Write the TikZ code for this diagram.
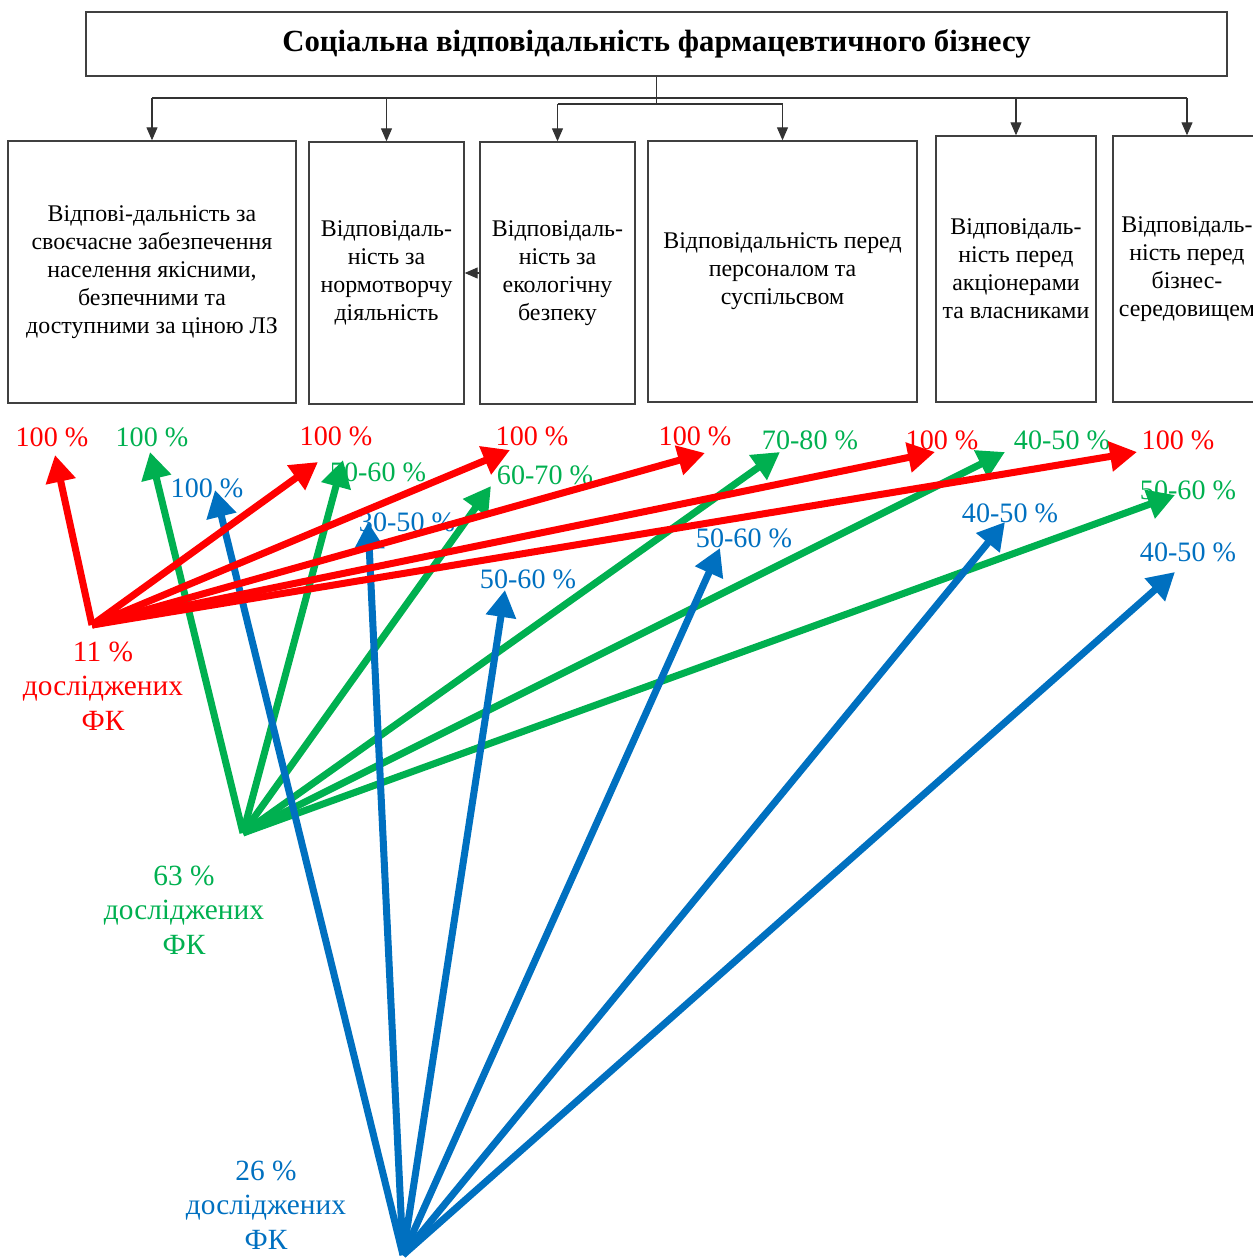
\documentclass[tikz,border=0pt]{standalone}
\usepackage{fontspec}
\setmainfont{Liberation Serif}
\usetikzlibrary{arrows.meta, positioning}
\definecolor{fkred}{HTML}{FF0000}
\definecolor{fkgreen}{HTML}{00B050}
\definecolor{fkblue}{HTML}{0070C0}
\definecolor{boxline}{HTML}{404040}
\tikzset{
  headbox/.style={draw=boxline, line width=0.8pt,
              minimum width=22.82cm, minimum height=1.28cm,
              font=\fontsize{17.5}{20}\selectfont\bfseries},
  respbox/.style={draw=boxline, line width=0.8pt, minimum height=5.24cm,
              align=center, inner sep=2pt,
              font=\fontsize{13.6}{16}\selectfont},
  plainline/.style={line width=0.6pt, color=black!80},
  link/.style={-{Triangle[length=2.6mm, width=2.2mm]}, line width=0.6pt, color=black!80},
  colorarr/.style={-{Triangle[length=5.4mm, width=5.8mm]}, line width=4pt, color=#1},
  pct/.style={text=#1, inner sep=0pt, font=\fontsize{16}{19}\selectfont},
  srclabel/.style={text=#1, align=center, inner sep=0pt,
              font=\fontsize{16.7}{19.5}\selectfont},
}

\begin{document}
\begin{tikzpicture}[x=0.02cm, y=-0.02cm]
  \useasboundingbox (0,0) rectangle (1253,1259);

  % title and the six kinds of responsibility
  \node[headbox] (title) at (656.5,44) {Соціальна відповідальність фармацевтичного бізнесу};
  \node[respbox, minimum width=5.76cm] (resp1) at (152,272)
    {Відпові-дальність за\\своєчасне забезпечення\\населення якісними,\\безпечними та\\доступними за ціною ЛЗ};
  \node[respbox, minimum width=3.1cm] (resp2) at (386.5,273)
    {Відповідаль-\\ність за\\нормотворчу\\діяльність};
  \node[respbox, minimum width=3.1cm] (resp3) at (557.5,273)
    {Відповідаль-\\ність за\\екологічну\\безпеку};
  \node[respbox, minimum width=5.38cm, minimum height=5.22cm] (resp4) at (782.5,271.5)
    {Відповідальність перед\\персоналом та\\суспільсвом};
  \node[respbox, minimum width=3.2cm, minimum height=5.32cm] (resp5) at (1016,269)
    {Відповідаль-\\ність перед\\акціонерами\\та власниками};
  \node[respbox, minimum width=2.96cm, minimum height=5.32cm] (resp6) at (1187,269)
    {Відповідаль-\\ність перед\\бізнес-\\середовищем};

  \coordinate (hi) at (0,98);
  \coordinate (lo) at (0,104);
  \draw[plainline] (title.south) -- (title.south |- lo);
  \draw[plainline] (resp1.north |- hi) -- (resp6.north |- hi);
  \draw[plainline] (resp3.north |- lo) -- (resp4.north |- lo);
  \draw[link] (resp1.north |- hi) -- (resp1.north);
  \draw[link] (resp2.north |- hi) -- (resp2.north);
  \draw[link] (resp3.north |- lo) -- (resp3.north);
  \draw[link] (resp4.north |- lo) -- (resp4.north);
  \draw[link] (resp5.north |- hi) -- (resp5.north);
  \draw[link] (resp6.north |- hi) -- (resp6.north);
  \draw[link] (resp3.west) -- (resp2.east);

  % shares of the studied companies
  \coordinate (src11) at (92,625);
  \coordinate (src63) at (243,833);
  \coordinate (src26) at (403,1255);
  \node[srclabel=fkred]   (lab11) at (103,686)  {11 \%\\досліджених\\ФК};
  \node[srclabel=fkgreen] (lab63) at (184,910)  {63 \%\\досліджених\\ФК};
  \node[srclabel=fkblue]  (lab26) at (266,1205) {26 \%\\досліджених\\ФК};

  % percent labels
  \node[pct=fkred] (rp1) at (52,437)   {100 \%};
  \node[pct=fkred] (rp2) at (336,436)  {100 \%};
  \node[pct=fkred] (rp3) at (532,436)  {100 \%};
  \node[pct=fkred] (rp4) at (695,436)  {100 \%};
  \node[pct=fkred] (rp5) at (942,440)  {100 \%};
  \node[pct=fkred] (rp6) at (1178,440) {100 \%};
  \node[pct=fkgreen] (gp1) at (152,437)  {100 \%};
  \node[pct=fkgreen] (gp2) at (378,472)  {50-60 \%};
  \node[pct=fkgreen] (gp3) at (545,475)  {60-70 \%};
  \node[pct=fkgreen] (gp4) at (810,440)  {70-80 \%};
  \node[pct=fkgreen] (gp5) at (1062,440) {40-50 \%};
  \node[pct=fkgreen] (gp6) at (1188,490) {50-60 \%};
  \node[pct=fkblue] (bp1) at (207,488)  {100 \%};
  \node[pct=fkblue] (bp2) at (407,522)  {30-50 \%};
  \node[pct=fkblue] (bp3) at (528,579)  {50-60 \%};
  \node[pct=fkblue] (bp4) at (744,538)  {50-60 \%};
  \node[pct=fkblue] (bp5) at (1010,513) {40-50 \%};
  \node[pct=fkblue] (bp6) at (1188,552) {40-50 \%};

  % arrow tips
  \coordinate (rt1) at (55,455);
  \coordinate (rt2) at (318,462);
  \coordinate (rt3) at (510,450);
  \coordinate (rt4) at (705,453);
  \coordinate (rt5) at (935,452);
  \coordinate (rt6) at (1137,452);
  \coordinate (gt1) at (150,452);
  \coordinate (gt2) at (343,460);
  \coordinate (gt3) at (491,486);
  \coordinate (gt4) at (780,452);
  \coordinate (gt5) at (1005,452);
  \coordinate (gt6) at (1175,495);
  \coordinate (bt1) at (215,490);
  \coordinate (bt2) at (368,522);
  \coordinate (bt3) at (505,590);
  \coordinate (bt4) at (720,548);
  \coordinate (bt5) at (1005,522);
  \coordinate (bt6) at (1175,572);

  \draw[colorarr=fkgreen] (src63) -- (gt1);
  \draw[colorarr=fkgreen] (src63) -- (gt2);
  \draw[colorarr=fkgreen] (src63) -- (gt3);
  \draw[colorarr=fkgreen] (src63) -- (gt4);
  \draw[colorarr=fkgreen] (src63) -- (gt5);
  \draw[colorarr=fkgreen] (src63) -- (gt6);
  \draw[colorarr=fkblue] (src26) -- (bt1);
  \draw[colorarr=fkblue] (src26) -- (bt2);
  \draw[colorarr=fkblue] (src26) -- (bt3);
  \draw[colorarr=fkblue] (src26) -- (bt4);
  \draw[colorarr=fkblue] (src26) -- (bt5);
  \draw[colorarr=fkblue] (src26) -- (bt6);
  \draw[colorarr=fkred] (src11) -- (rt1);
  \draw[colorarr=fkred] (src11) -- (rt2);
  \draw[colorarr=fkred] (src11) -- (rt3);
  \draw[colorarr=fkred] (src11) -- (rt4);
  \draw[colorarr=fkred] (src11) -- (rt5);
  \draw[colorarr=fkred] (src11) -- (rt6);
\end{tikzpicture}
\end{document}
